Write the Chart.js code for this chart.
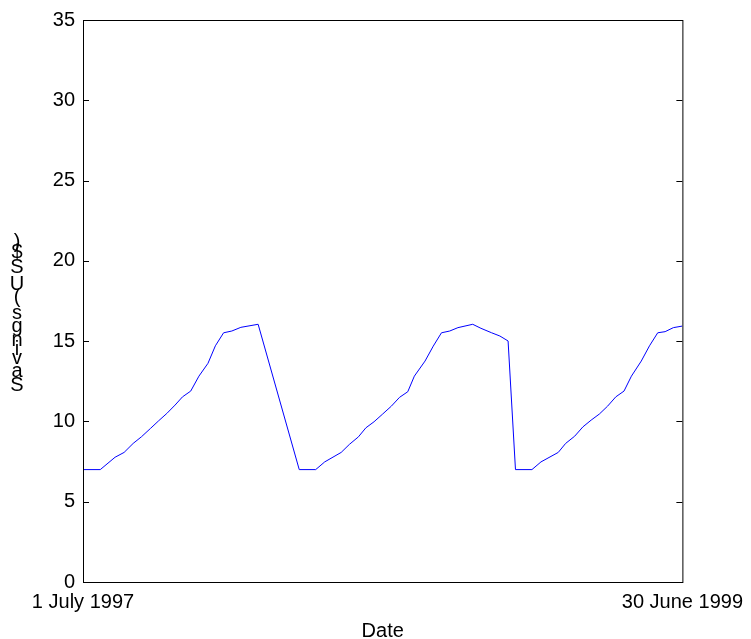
<!DOCTYPE html>
<html>
<head>
<meta charset="utf-8">
<script src="https://cdn.jsdelivr.net/npm/chart.js@4/dist/chart.umd.min.js"></script>
<style>
  html, body { margin: 0; padding: 0; background: #fff; }
  #wrap { width: 751px; height: 639px; }
</style>
</head>
<body>
<div id="wrap"><canvas id="savingsChart" width="751" height="639"></canvas></div>
<script>
// days since 1 July 1997
const dayOffsets = [
    0, 21, 39, 50, 61, 71, 82, 92, 102, 112, 121, 131, 141, 152, 161, 171, 181, 192, 213,
    263, 283, 294, 314, 324, 335, 344, 354, 364, 375, 385, 395, 403, 416, 426, 436, 446, 456,
    474, 484, 497, 507, 517,
    526, 546, 557, 578, 587, 598, 608, 618, 628, 638, 648, 658, 667, 679, 689, 699, 708, 718, 729
];
const savings = [
    7, 7, 7.77, 8.07, 8.63, 9.04, 9.56, 10.04, 10.5, 11.02, 11.53, 11.89, 12.82, 13.62, 14.71, 15.52, 15.63, 15.86, 16.05,
    7, 7, 7.48, 8.07, 8.57, 9.04, 9.6, 9.98, 10.44, 10.95, 11.5, 11.85, 12.82, 13.76, 14.69, 15.52, 15.63, 15.84,
    16.05, 15.8, 15.52, 15.32, 15.01,
    7, 7, 7.48, 8.07, 8.63, 9.08, 9.66, 10.08, 10.46, 10.95, 11.53, 11.89, 12.82, 13.76, 14.71, 15.52, 15.59, 15.84, 15.94
];
const xTickValues = [0, 729];
const xTickLabels = ['1 July 1997', '30 June 1999'];
const yTicks = [0, 5, 10, 15, 20, 25, 30, 35];
const yLabel = 'Savings (US$)';

const FONT = '"Liberation Sans", Arial, sans-serif';

// box around the plot with inward ticks on both sides
const boxPlugin = {
    id: 'boxPlugin',
    afterDraw(chart) {
        const { ctx, chartArea: a, scales } = chart;
        ctx.save();
        ctx.strokeStyle = '#000';
        ctx.lineWidth = 1;
        ctx.strokeRect(a.left + 0.5, a.top + 0.5, a.right - a.left, a.bottom - a.top);
        ctx.beginPath();
        yTicks.forEach(v => {
            const y = Math.round(scales.y.getPixelForValue(v)) + 0.5;
            ctx.moveTo(a.left, y); ctx.lineTo(a.left + 6, y);
            ctx.moveTo(a.right, y); ctx.lineTo(a.right - 6, y);
        });
        ctx.stroke();

        // y label, glyphs stacked upright
        ctx.fillStyle = '#000';
        ctx.font = '20px ' + FONT;
        ctx.textAlign = 'center';
        ctx.textBaseline = 'middle';
        let cum = 0;
        const k = 1.21, yBottom = 394;
        for (const ch of yLabel) {
            const w = ctx.measureText(ch).width;
            if (ch !== ' ') ctx.fillText(ch, 17, yBottom - (cum + w / 2) * k);
            cum += w;
        }
        ctx.restore();
    }
};

new Chart(document.getElementById('savingsChart'), {
    type: 'line',
    data: {
        datasets: [{
            data: dayOffsets.map((d, i) => ({ x: d, y: savings[i] })),
            borderColor: '#0000ff',
            borderWidth: 1,
            pointRadius: 0,
            tension: 0,
            fill: false
        }]
    },
    options: {
        responsive: false,
        animation: false,
        layout: { padding: { top: 20, right: 66, bottom: 0, left: 0 } },
        plugins: { legend: { display: false }, tooltip: { enabled: false } },
        scales: {
            x: {
                type: 'linear',
                min: 0,
                max: 729,
                grid: { display: false, drawTicks: false },
                border: { display: false },
                afterBuildTicks: s => { s.ticks = xTickValues.map(v => ({ value: v })); },
                afterFit: s => { s.height = 57; },
                ticks: {
                    padding: 8,
                    maxRotation: 0,
                    autoSkip: false,
                    color: '#000',
                    font: { family: FONT, size: 20 },
                    callback: v => xTickLabels[xTickValues.indexOf(v)]
                },
                title: {
                    display: true,
                    text: 'Date',
                    color: '#000',
                    padding: { top: 0, bottom: -2 },
                    font: { family: FONT, size: 20, lineHeight: 1 }
                }
            },
            y: {
                min: 0,
                max: 35,
                grid: { display: false, drawTicks: false },
                border: { display: false },
                afterBuildTicks: s => { s.ticks = yTicks.map(v => ({ value: v })); },
                afterFit: s => { s.width = 83; },
                ticks: {
                    padding: 8,
                    color: '#000',
                    font: { family: FONT, size: 20 }
                }
            }
        }
    },
    plugins: [boxPlugin]
});
</script>
</body>
</html>
